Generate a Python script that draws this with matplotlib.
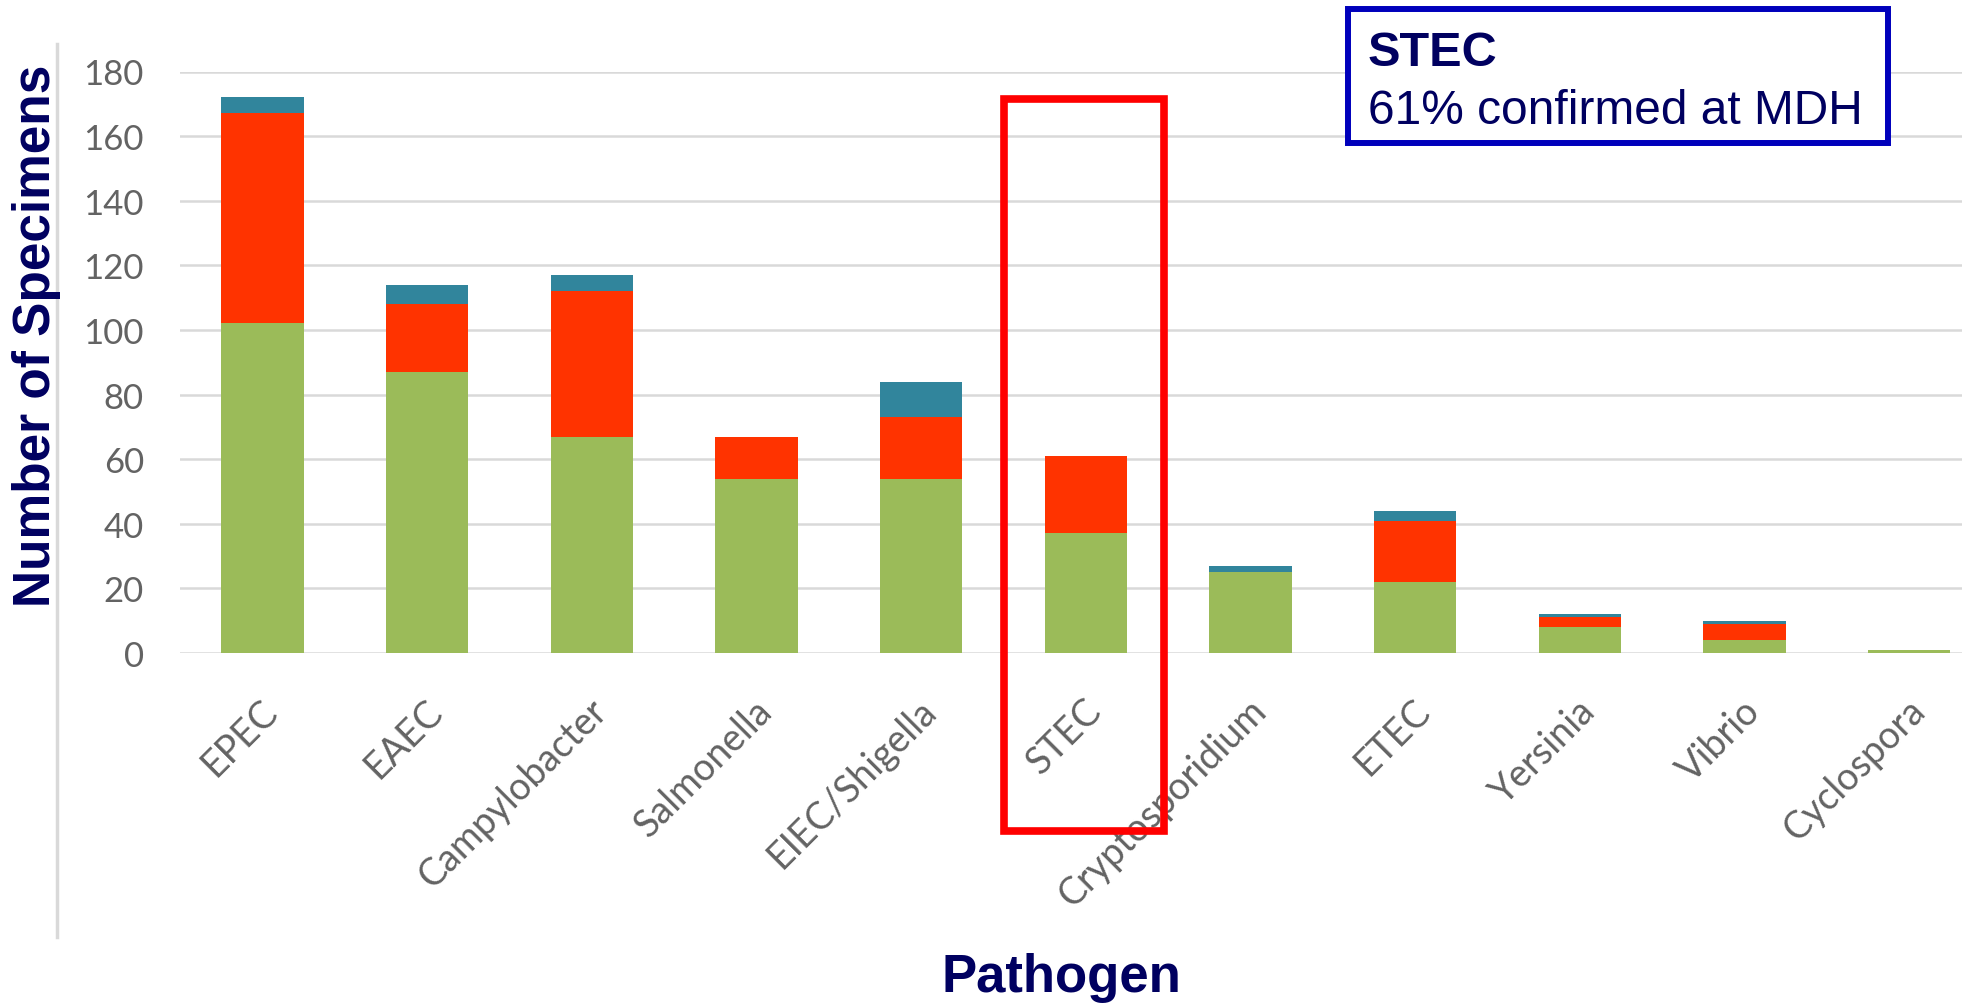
import matplotlib
matplotlib.use('Agg')
import matplotlib.pyplot as plt
import matplotlib.patches as patches
import matplotlib.transforms as mtransforms
from matplotlib.lines import Line2D
import numpy as np

plt.rcParams['font.family'] = ['Liberation Sans', 'DejaVu Sans']

# Данные
pathogens = ['EPEC', 'EAEC', 'Campylobacter', 'Salmonella', 'EIEC/Shigella', 'STEC',
             'Cryptosporidium', 'ETEC', 'Yersinia', 'Vibrio', 'Cyclospora']
green_vals = [102, 87, 67, 54, 54, 37, 25, 22, 8, 4, 1]
red_vals = [65, 21, 45, 13, 19, 24, 0, 19, 3, 5, 0]
teal_vals = [5, 6, 5, 0, 11, 0, 2, 3, 1, 1, 0]
y_ticks = [0, 20, 40, 60, 80, 100, 120, 140, 160, 180]

W, H = 1962, 1004
fig = plt.figure(figsize=(W / 100, H / 100), dpi=100)


# пиксели -> доли фигуры
def fx(x):
    return x / W


def fy(y):
    return 1 - y / H


ax = fig.add_axes([fx(180), fy(654), fx(W - 180), (654 - 72.5) / H])

x = np.arange(len(pathogens))
g = np.array(green_vals)
r = np.array(red_vals)
t = np.array(teal_vals)
ax.bar(x, g, width=0.5, color='#9BBB59', zorder=3)
ax.bar(x, r, width=0.5, bottom=g, color='#FF3300', zorder=3)
ax.bar(x, t, width=0.5, bottom=g + r, color='#31859C', zorder=3)

ax.set_xlim(-0.5, 10.32)
ax.set_ylim(0, 180)
ax.set_yticks(y_ticks)
ax.set_yticklabels([str(v) for v in y_ticks])
ax.yaxis.grid(True, color='#D9D9D9', lw=1.8, zorder=0)
ax.set_axisbelow(True)
for s in ax.spines.values():
    s.set_visible(False)

ax.tick_params(axis='y', length=0, pad=26, labelsize=25, labelcolor='#636363',
               labelfontfamily='Lato')
ax.tick_params(axis='x', length=0, pad=28, labelsize=27, labelcolor='#636363',
               labelfontfamily='Lato')
ax.set_xticks(x)
ax.set_xticklabels(pathogens, rotation=45, ha='right', va='top', rotation_mode='anchor')
offset = mtransforms.ScaledTranslation(-3 / 100, 0, fig.dpi_scale_trans)
for lbl in ax.get_xticklabels():
    lbl.set_transform(lbl.get_transform() + offset)

# подписи осей
fig.text(fx(37), fy(336), 'Number of Specimens', rotation=90, ha='center', va='center',
         fontsize=37, fontweight='bold', color='#000060')
fig.text(fx(1061), fy(992), 'Pathogen', ha='center', va='baseline',
         fontsize=38, fontweight='bold', color='#000060')

# серая рамка слева
fig.add_artist(Line2D([fx(57), fx(57)], [fy(45), fy(938)], transform=fig.transFigure,
                      color='#D9D9D9', lw=2.5))

# красная рамка вокруг STEC
fig.add_artist(patches.Rectangle((fx(1003.5), fy(832)), fx(1164 - 1003.5), (832 - 99.5) / H,
                                 transform=fig.transFigure, fill=False, ec='#FF0000', lw=5.5,
                                 zorder=10))

# синяя рамка с текстом
fig.add_artist(patches.Rectangle((fx(1348), fy(144)), fx(1888 - 1348), (144 - 10) / H,
                                 transform=fig.transFigure, fill=True, fc='white', ec='#0000BB',
                                 lw=4.3, zorder=10))
fig.text(fx(1368), fy(66), 'STEC', ha='left', va='baseline', fontsize=35,
         fontweight='bold', color='#000060', zorder=11)
fig.text(fx(1368), fy(124), '61% confirmed at MDH', ha='left', va='baseline', fontsize=34.5,
         color='#000060', zorder=11)

fig.savefig('out.png', dpi=100, facecolor='white')
